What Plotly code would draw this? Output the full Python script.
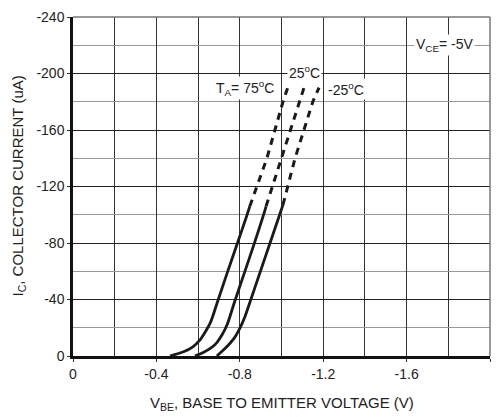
import plotly.graph_objects as go

# ---- data (V_BE in volts, I_C in microamps) ----
vbe_75_solid = [-0.465, -0.53, -0.575, -0.607, -0.632, -0.66, -0.69, -0.74, -0.79, -0.835, -0.848]
ic_75_solid = [0, -3, -6.5, -11, -16.5, -24, -37, -59, -80.5, -100, -106]
vbe_75_dash = [-0.848, -0.93, -1.007, -1.03]
ic_75_dash = [-106, -140, -180, -190]

vbe_25_solid = [-0.585, -0.625, -0.66, -0.69, -0.715, -0.74, -0.772, -0.82, -0.868, -0.912, -0.926]
ic_25_solid = [0, -2.5, -5.5, -9.5, -15, -22.5, -37, -58, -79, -99, -106]
vbe_25_dash = [-0.926, -1.0, -1.088, -1.108]
ic_25_dash = [-106, -140, -180, -190]

vbe_m25_solid = [-0.69, -0.72, -0.75, -0.775, -0.80, -0.825, -0.853, -0.899, -0.945, -0.991, -1.007]
ic_m25_solid = [0, -4, -8.5, -13, -19.5, -28, -40, -60, -80, -100, -107]
vbe_m25_dash = [-1.007, -1.065, -1.15, -1.18]
ic_m25_dash = [-107, -140, -180, -190]

x_tickvals = [0, -0.4, -0.8, -1.2, -1.6, -2.0]
x_ticktext = ["0", "-0.4", "-0.8", "-1.2", "-1.6", "-2.0"]
y_tickvals = [0, -40, -80, -120, -160, -200, -240]
y_ticktext = ["0", "-40", "-80", "-120", "-160", "-200", "-240"]

FONT = "Liberation Sans, Arial, sans-serif"
LINE = "#1a1a1a"
TXT = "#222"

fig = go.Figure()
for xs, ys in [(vbe_75_solid, ic_75_solid), (vbe_25_solid, ic_25_solid), (vbe_m25_solid, ic_m25_solid)]:
    fig.add_trace(go.Scatter(x=xs, y=ys, mode="lines",
                             line=dict(color=LINE, width=2.8, shape="spline", smoothing=0.8),
                             showlegend=False, hoverinfo="skip"))
for xs, ys in [(vbe_75_dash, ic_75_dash), (vbe_25_dash, ic_25_dash), (vbe_m25_dash, ic_m25_dash)]:
    fig.add_trace(go.Scatter(x=xs, y=ys, mode="lines", line=dict(color=LINE, width=3, dash="7px,6px"),
                             showlegend=False, hoverinfo="skip"))

ann_font = dict(family=FONT, size=14, color=TXT)
fig.add_annotation(x=-0.825, y=-189.5, text="T<sub>A</sub>= 75<sup>o</sup>C", showarrow=False,
                   font=ann_font, bgcolor="white", borderpad=1)
fig.add_annotation(x=-1.108, y=-201, text="25<sup>o</sup>C", showarrow=False,
                   font=ann_font, bgcolor="white", borderpad=1)
fig.add_annotation(x=-1.309, y=-189, text="-25<sup>o</sup>C", showarrow=False,
                   font=ann_font, bgcolor="white", borderpad=1)
fig.add_annotation(x=-1.78, y=-220, text="V<sub>CE</sub>= -5V", showarrow=False,
                   font=ann_font, bgcolor="white", borderpad=1)

# axis titles
title_font = dict(family=FONT, size=15, color=TXT)
fig.add_annotation(xref="paper", yref="paper", x=0.5, y=0, yshift=-47, yanchor="middle",
                   text="V<sub>BE</sub>, BASE TO EMITTER VOLTAGE (V)", showarrow=False, font=title_font)
fig.add_annotation(xref="paper", yref="paper", x=0, y=0.5, xshift=-55, xanchor="center",
                   text="I<sub>C</sub>, COLLECTOR CURRENT (uA)", showarrow=False, font=title_font,
                   textangle=-90)

# top/right border of the grid
fig.add_shape(type="line", xref="paper", yref="paper", x0=0, x1=1, y0=1, y1=1, line=dict(color="#777", width=1.5))
fig.add_shape(type="line", xref="paper", yref="paper", x0=1, x1=1, y0=0, y1=1, line=dict(color="#777", width=1.5))

fig.update_xaxes(range=[0, -2.0], tickvals=x_tickvals, ticktext=x_ticktext,
                 showgrid=True, gridcolor="#333", gridwidth=1,
                 minor=dict(dtick=0.2, tick0=0, showgrid=True, gridcolor="#333", gridwidth=1),
                 showline=True, linecolor="#111", linewidth=2.5, ticks="outside", ticklen=3,
                 tickcolor="#333", zeroline=False, automargin=False,
                 tickfont=dict(family=FONT, size=14, color=TXT))
fig.update_yaxes(range=[0, -240], tickvals=y_tickvals, ticktext=y_ticktext,
                 showgrid=True, gridcolor="#222", gridwidth=1,
                 minor=dict(dtick=20, tick0=0, showgrid=True, gridcolor="#999", gridwidth=1),
                 showline=True, linecolor="#111", linewidth=2.5, ticks="outside", ticklen=3,
                 tickcolor="#333", zeroline=False, automargin=False,
                 tickfont=dict(family=FONT, size=14, color=TXT))

# page body adds an 8px offset, so the figure is sized 8px smaller
fig.update_layout(width=492, height=409, margin=dict(l=65, r=10, t=9, b=61, autoexpand=False),
                  plot_bgcolor="white", paper_bgcolor="white", showlegend=False)

fig.write_html("out.html")
